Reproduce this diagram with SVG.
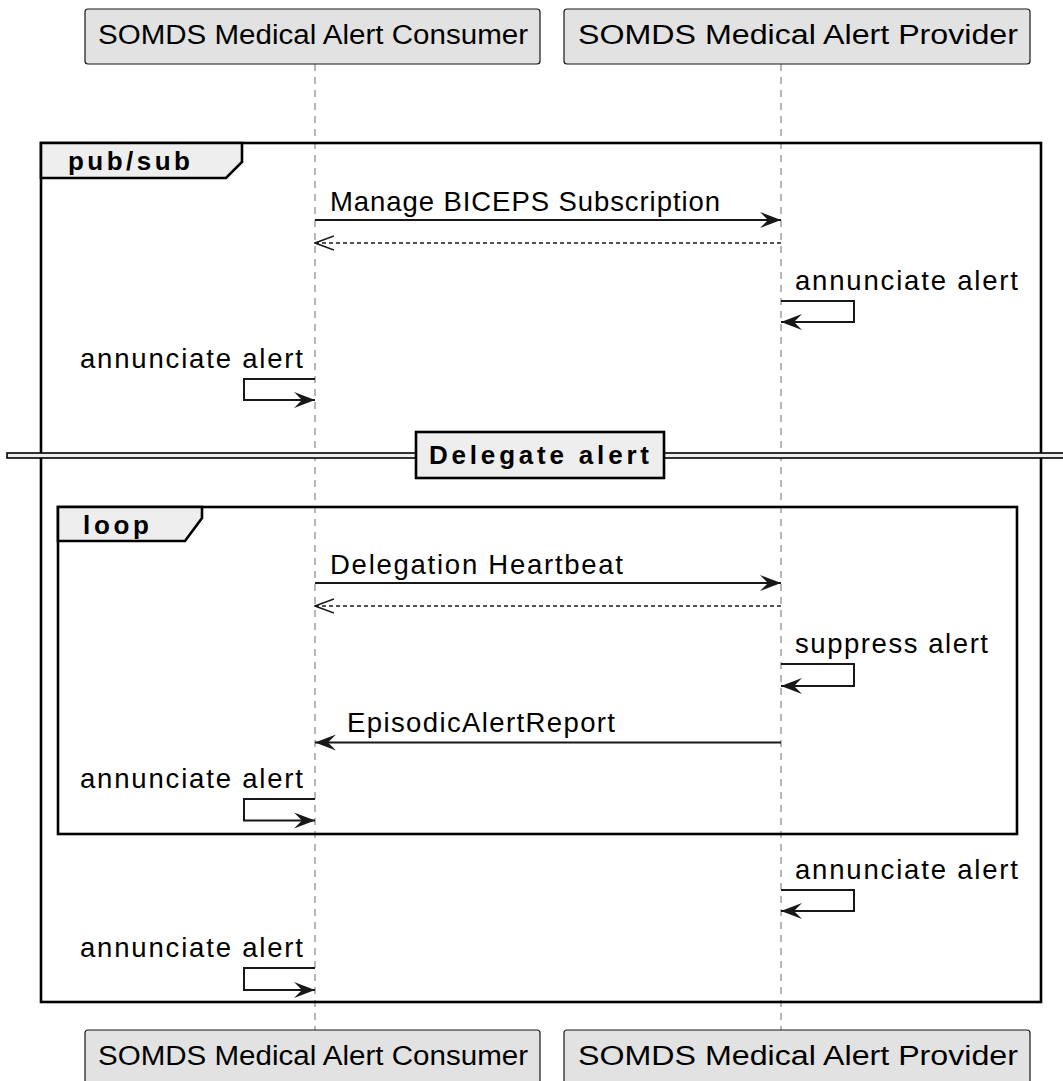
<svg xmlns="http://www.w3.org/2000/svg" width="1063" height="1081" viewBox="0 0 1063 1081">
  <style>
    .participant rect { fill: #E2E2E2; stroke: #181818; stroke-width: 1.2; }
    .ptext { font-family: "Liberation Sans", Arial, sans-serif; font-size: 27px; fill: #000; }
    .msg { font-family: "Liberation Sans", Arial, sans-serif; font-size: 27.5px; fill: #000; }
    .title { font-family: "Liberation Sans", Arial, sans-serif; font-size: 26px; font-weight: bold; fill: #000; }
    .lifeline { stroke: #888888; stroke-width: 1.2; stroke-dasharray: 7,6; fill: none; }
    .frame { fill: none; stroke: #000; stroke-width: 2.6; }
    .tab { fill: #EEEEEE; stroke: #000; stroke-width: 2.6; }
    .line { stroke: #181818; stroke-width: 2; fill: none; }
    .dash { stroke: #181818; stroke-width: 1.6; fill: none; stroke-dasharray: 4,3; }
  </style>
  <defs>
    <marker id="solid" viewBox="0 0 21 17" refX="21" refY="8.5" markerWidth="21" markerHeight="17" markerUnits="userSpaceOnUse" orient="auto">
      <polygon points="0,0.5 21,8.5 0,16.5 8,8.5" fill="#181818"/>
    </marker>
    <marker id="open" viewBox="0 0 20 16" refX="19" refY="8" markerWidth="20" markerHeight="16" markerUnits="userSpaceOnUse" orient="auto">
      <polyline points="0,1 19,8 0,15" fill="none" stroke="#181818" stroke-width="1.6"/>
    </marker>
  </defs>
  <rect width="1063" height="1081" fill="#FFFFFF"/>

  <!-- lifelines -->
  <g id="lifelines">
    <line class="lifeline" x1="315" y1="64" x2="315" y2="1030"/>
    <line class="lifeline" x1="781" y1="64" x2="781" y2="1030"/>
  </g>

  <!-- participants (head and foot) -->
  <g id="consumer-top" class="participant">
    <rect x="85" y="9" width="455" height="55" rx="3"/>
    <text class="ptext" x="98" y="44" textLength="430" lengthAdjust="spacingAndGlyphs">SOMDS Medical Alert Consumer</text>
  </g>
  <g id="provider-top" class="participant">
    <rect x="564" y="9" width="466" height="55" rx="3"/>
    <text class="ptext" x="578" y="44" textLength="440" lengthAdjust="spacingAndGlyphs">SOMDS Medical Alert Provider</text>
  </g>
  <g id="consumer-bottom" class="participant">
    <rect x="85" y="1030" width="455" height="60" rx="3"/>
    <text class="ptext" x="98" y="1065" textLength="430" lengthAdjust="spacingAndGlyphs">SOMDS Medical Alert Consumer</text>
  </g>
  <g id="provider-bottom" class="participant">
    <rect x="564" y="1030" width="466" height="60" rx="3"/>
    <text class="ptext" x="578" y="1065" textLength="440" lengthAdjust="spacingAndGlyphs">SOMDS Medical Alert Provider</text>
  </g>

  <!-- pub/sub group frame -->
  <g id="frame-pubsub">
    <rect class="frame" x="41" y="143" width="1000" height="859"/>
    <path class="tab" d="M41,143 L242,143 L242,162 L226,178 L41,178 Z"/>
    <text class="title" x="68" y="170" textLength="122" lengthAdjust="spacing">pub/sub</text>
  </g>

  <!-- loop group frame -->
  <g id="frame-loop">
    <rect class="frame" x="58" y="507" width="959" height="327"/>
    <path class="tab" d="M58,507 L202,507 L202,518 L185,541 L58,541 Z"/>
    <text class="title" x="83" y="534" textLength="66" lengthAdjust="spacing">loop</text>
  </g>

  <!-- divider -->
  <g id="divider-delegate">
    <rect x="7" y="453" width="1070" height="5" fill="#EEEEEE" stroke="#000" stroke-width="1.6"/>
    <rect x="416" y="432" width="248" height="46" fill="#EEEEEE" stroke="#000" stroke-width="2.6"/>
    <text class="title" x="429" y="464" textLength="220" lengthAdjust="spacing">Delegate alert</text>
  </g>

  <!-- messages -->
  <g id="connectors">
    <line class="line" x1="315" y1="220" x2="781" y2="220" marker-end="url(#solid)"/>
    <line class="dash" x1="781" y1="243" x2="315" y2="243" marker-end="url(#open)"/>

    <polyline class="line" points="781,301 854,301 854,322 781,322" marker-end="url(#solid)"/>
    <polyline class="line" points="315,379 244,379 244,400 315,400" marker-end="url(#solid)"/>

    <line class="line" x1="315" y1="583" x2="781" y2="583" marker-end="url(#solid)"/>
    <line class="dash" x1="781" y1="606" x2="315" y2="606" marker-end="url(#open)"/>

    <polyline class="line" points="781,664 854,664 854,686 781,686" marker-end="url(#solid)"/>
    <line class="line" x1="781" y1="742.5" x2="315" y2="742.5" marker-end="url(#solid)"/>
    <polyline class="line" points="315,799 244,799 244,820.5 315,820.5" marker-end="url(#solid)"/>

    <polyline class="line" points="781,890 854,890 854,911 781,911" marker-end="url(#solid)"/>
    <polyline class="line" points="315,968 244,968 244,990 315,990" marker-end="url(#solid)"/>
  </g>

  <!-- message labels -->
  <g id="labels">
    <text class="msg" x="330" y="211" textLength="390" lengthAdjust="spacing">Manage BICEPS Subscription</text>
    <text class="msg" x="795" y="290" textLength="223" lengthAdjust="spacing">annunciate alert</text>
    <text class="msg" x="80" y="368" textLength="223" lengthAdjust="spacing">annunciate alert</text>
    <text class="msg" x="330" y="574" textLength="293" lengthAdjust="spacing">Delegation Heartbeat</text>
    <text class="msg" x="795" y="653" textLength="193" lengthAdjust="spacing">suppress alert</text>
    <text class="msg" x="347" y="732" textLength="268" lengthAdjust="spacing">EpisodicAlertReport</text>
    <text class="msg" x="80" y="788" textLength="223" lengthAdjust="spacing">annunciate alert</text>
    <text class="msg" x="795" y="879" textLength="223" lengthAdjust="spacing">annunciate alert</text>
    <text class="msg" x="80" y="957" textLength="223" lengthAdjust="spacing">annunciate alert</text>
  </g>
</svg>
